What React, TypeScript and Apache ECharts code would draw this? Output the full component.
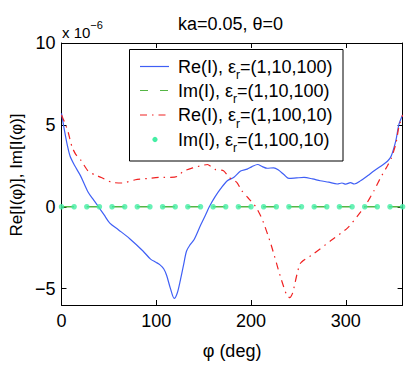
import React, { useEffect, useRef } from "react";
import * as echarts from "echarts";

// phi in degrees; values in units of 1e-6
const phiBlue = [0,3,6,9,14,20,28,34,39,45,51,60,72,86,94,100,104,108,111,115,119,122,125,129,132,136,140,147,152,156,162,168,175,182,189,196,201,207,212,217,224,229,235,240,248,256,265,273,282,291,296,300,305,309,316,323,330,337,344,348,353,356,360];
const reBlue = [5.7,4.7,3.8,3.1,2.5,1.9,0.9,0.4,0.0,-0.5,-1.0,-1.4,-1.95,-2.7,-3.2,-3.4,-3.55,-3.8,-4.2,-5.0,-5.6,-5.3,-4.6,-3.5,-2.7,-2.3,-2.0,-1.1,-0.5,0.0,0.6,1.1,1.59,1.8,2.18,2.3,2.45,2.58,2.45,2.35,2.38,2.24,1.95,1.73,1.76,1.79,1.7,1.59,1.5,1.39,1.45,1.38,1.47,1.39,1.6,1.89,2.2,2.48,2.78,3.1,4.07,5.0,5.6];

const phiRed = [0,4,7,11,15,20,28,35,42,53,64,78,92,106,115,122,129,139,147,154,162,171,177,185,190,196,205,212,221,231,238,241,244,252,266,284,302,316,320,330,337,344,348,353,356,360];
const reRed = [5.6,5.06,4.56,3.67,3.2,2.88,2.18,1.95,1.79,1.49,1.45,1.65,1.73,1.8,1.8,1.85,2.18,2.38,2.5,2.58,2.28,2.2,1.79,1.49,1.0,0.6,0.0,-0.79,-2.28,-4.26,-5.45,-5.55,-5.26,-3.47,-2.88,-2.08,-1.29,-0.3,0.0,1.0,1.8,2.5,2.95,3.87,4.86,5.6];

const phiIm = [0,13.3,26.7,40,53.3,66.7,80,93.3,106.7,120,133.3,146.7,160,173.3,186.7,200,213.3,226.7,240,253.3,266.7,280,293.3,306.7,320,333.3,346.7,360];
const imA = [0,0,0,0,0,0,0,0,0,0,0,0,0,0,0,0,0,0,0,0,0,0,0,0,0,0,0,0];
const imB = [0,0,0,0,0,0,0,0,0,0,0,0,0,0,0,0,0,0,0,0,0,0,0,0,0,0,0,0];

const xTicks = [0, 100, 200, 300];
const yTicks = [-5, 0, 5, 10];

const legendLabels = [
  ["Re(I), ε", "r", "=(1,10,100)"],
  ["Im(I), ε", "r", "=(1,10,100)"],
  ["Re(I), ε", "r", "=(1,100,10)"],
  ["Im(I), ε", "r", "=(1,100,10)"],
];

const titleText = "ka=0.05, θ=0";
const xName = "φ (deg)";
const yName = "Re[I(φ)], Im[I(φ)]";

const FONT = "'Liberation Sans', Arial, Helvetica, sans-serif";
const BLUE = "#3f5ff5";
const GREEN = "#55b545";
const RED = "#f02222";
const CYAN = "#44eea4";

const zip = (xs: number[], ys: number[]) => xs.map((x, i) => [x, ys[i]]);

export default function App() {
  const ref = useRef<HTMLDivElement>(null);
  useEffect(() => {
    if (!ref.current) return;
    const chart = echarts.init(ref.current, null, { renderer: "svg" });
    const axisLine = { show: true, onZero: false, lineStyle: { color: "#000", width: 1 } };
    const rowY = [66.5, 90.5, 115, 139.5];
    const legendGraphics: any[] = [
      {
        type: "rect",
        shape: { x: 129.5, y: 49.5, width: 213.5, height: 111.5 },
        style: { fill: "#fff", stroke: "#000", lineWidth: 1 },
        z: 10,
      },
      {
        type: "line",
        shape: { x1: 140, y1: rowY[0], x2: 169, y2: rowY[0] },
        style: { stroke: BLUE, lineWidth: 1.2 },
        z: 11,
      },
      {
        type: "line",
        shape: { x1: 140, y1: rowY[1], x2: 169, y2: rowY[1] },
        style: { stroke: GREEN, lineWidth: 1.2, lineDash: [8, 12] },
        z: 11,
      },
      {
        type: "line",
        shape: { x1: 140, y1: rowY[2], x2: 170, y2: rowY[2] },
        style: { stroke: RED, lineWidth: 1.2, lineDash: [7, 5, 1.5, 5] },
        z: 11,
      },
      {
        type: "circle",
        shape: { cx: 155, cy: rowY[3], r: 2.6 },
        style: { fill: CYAN },
        z: 11,
      },
    ];
    legendLabels.forEach((parts, i) => {
      legendGraphics.push({
        type: "text",
        x: 178,
        y: rowY[i] - 9,
        z: 11,
        style: {
          text: `{m|${parts[0]}}{s|${parts[1]}}{m|${parts[2]}}`,
          fill: "#000",
          verticalAlign: "top",
          align: "left",
          rich: {
            m: { fontSize: 18, fontFamily: FONT, lineHeight: 18, verticalAlign: "top", fill: "#000" },
            s: { fontSize: 12, fontFamily: FONT, lineHeight: 23.5, verticalAlign: "bottom", fill: "#000" },
          },
        },
      });
    });

    chart.setOption({
      animation: false,
      backgroundColor: "#fff",
      grid: { left: 61.5, right: 6.4, top: 43, bottom: 52.2, containLabel: false },
      xAxis: [
        {
          type: "value",
          min: 0,
          max: 360,
          position: "bottom",
          axisLine,
          axisTick: { show: true, inside: true, length: 5, customValues: xTicks, lineStyle: { color: "#000" } },
          axisLabel: { show: true, customValues: xTicks, fontSize: 18, fontFamily: FONT, color: "#000", margin: 7 },
          splitLine: { show: false },
          name: xName,
          nameLocation: "middle",
          nameGap: 37,
          nameTextStyle: { fontSize: 18, fontFamily: FONT, color: "#000" },
        },
        {
          type: "value",
          min: 0,
          max: 360,
          position: "top",
          axisLine,
          axisTick: { show: true, inside: true, length: 5, customValues: xTicks, lineStyle: { color: "#000" } },
          axisLabel: { show: false },
          splitLine: { show: false },
        },
      ],
      yAxis: [
        {
          type: "value",
          min: -6,
          max: 10,
          position: "left",
          axisLine,
          axisTick: { show: true, inside: true, length: 5, customValues: yTicks, lineStyle: { color: "#000" } },
          axisLabel: {
            show: true,
            customValues: yTicks,
            fontSize: 18,
            fontFamily: FONT,
            color: "#000",
            margin: 6,
            formatter: (v: number) => String(v).replace("-", "\u2212"),
          },
          splitLine: { show: false },
        },
        {
          type: "value",
          min: -6,
          max: 10,
          position: "right",
          axisLine,
          axisTick: { show: true, inside: true, length: 5, customValues: yTicks, lineStyle: { color: "#000" } },
          axisLabel: { show: false },
          splitLine: { show: false },
        },
      ],
      series: [
        {
          name: "Re(I) (1,10,100)",
          type: "line",
          data: zip(phiBlue, reBlue),
          showSymbol: false,
          smooth: 0.3,
          lineStyle: { color: BLUE, width: 1.2 },
          z: 2,
        },
        {
          name: "Im(I) (1,10,100)",
          type: "line",
          data: zip(phiIm, imA),
          showSymbol: false,
          lineStyle: { color: GREEN, width: 1.5, type: [12.6, 12.6] },
          z: 3,
        },
        {
          name: "Re(I) (1,100,10)",
          type: "line",
          data: zip(phiRed, reRed),
          showSymbol: false,
          smooth: 0.2,
          lineStyle: { color: RED, width: 1.2, type: [7, 5, 1.5, 5] },
          z: 4,
        },
        {
          name: "Im(I) (1,100,10)",
          type: "scatter",
          data: zip(phiIm, imB),
          symbol: "circle",
          symbolSize: 5.5,
          itemStyle: { color: CYAN },
          z: 5,
        },
      ],
      graphic: [
        {
          type: "text",
          x: 230.5,
          y: 24,
          style: { text: titleText, fontSize: 18, fontFamily: FONT, fill: "#000", align: "center", verticalAlign: "middle" },
        },
        {
          type: "text",
          x: 62,
          y: 19.5,
          style: {
            text: "{m|x 10}{s|\u22126}",
            verticalAlign: "top",
            align: "left",
            rich: {
              m: { fontSize: 15, fontFamily: FONT, lineHeight: 20, verticalAlign: "bottom", fill: "#000" },
              s: { fontSize: 11, fontFamily: FONT, lineHeight: 11, verticalAlign: "top", fill: "#000" },
            },
          },
        },
        {
          type: "text",
          x: 16,
          y: 175,
          rotation: Math.PI / 2,
          style: { text: yName, fontSize: 17, fontFamily: FONT, fill: "#000", align: "center", verticalAlign: "middle" },
        },
        ...legendGraphics,
      ],
    });
    return () => chart.dispose();
  }, []);
  return <div ref={ref} style={{ position: "absolute", left: 0, top: 0, width: 409, height: 365 }} />;
}
